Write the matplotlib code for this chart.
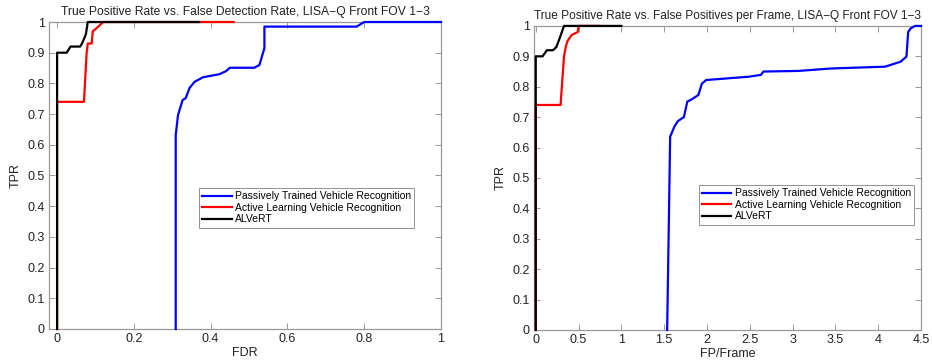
import matplotlib
matplotlib.use("Agg")
import matplotlib.pyplot as plt

plt.rcParams['font.family'] = ['Liberation Sans', 'DejaVu Sans']

# ---- Left plot: TPR vs FDR ----
fdr_passive = [0.309, 0.309, 0.315, 0.327, 0.335, 0.345, 0.358, 0.38, 0.423, 0.44, 0.45,
               0.514, 0.527, 0.54, 0.54, 0.78, 0.80, 1.0]
tpr_passive_l = [0.0, 0.632, 0.697, 0.746, 0.752, 0.785, 0.805, 0.82, 0.83, 0.84, 0.851,
                 0.851, 0.86, 0.915, 0.985, 0.985, 1.0, 1.0]
fdr_active = [0.0, 0.0, 0.07, 0.077, 0.08, 0.09, 0.093, 0.103, 0.12, 0.46]
tpr_active_l = [0.0, 0.74, 0.74, 0.90, 0.93, 0.93, 0.97, 0.98, 1.0, 1.0]
fdr_alvert = [0.0, 0.0, 0.025, 0.035, 0.06, 0.065, 0.075, 0.08, 0.37]
tpr_alvert_l = [0.0, 0.90, 0.90, 0.92, 0.92, 0.93, 0.96, 1.0, 1.0]

# ---- Right plot: TPR vs FP/Frame ----
fpf_passive = [1.535, 1.57, 1.62, 1.66, 1.73, 1.77, 1.83, 1.90, 1.94, 1.99, 2.26, 2.49,
               2.63, 2.66, 3.07, 3.45, 4.08, 4.17, 4.26, 4.33, 4.35, 4.38, 4.43, 4.5]
tpr_passive_r = [0.0, 0.636, 0.669, 0.687, 0.70, 0.751, 0.76, 0.773, 0.81, 0.822, 0.828,
                 0.833, 0.839, 0.85, 0.852, 0.86, 0.866, 0.874, 0.882, 0.899, 0.98, 0.992,
                 1.0, 1.0]
fpf_active = [0.0, 0.0, 0.29, 0.33, 0.35, 0.37, 0.42, 0.49, 0.50, 0.75]
tpr_active_r = [0.0, 0.74, 0.74, 0.90, 0.93, 0.95, 0.97, 0.98, 1.0, 1.0]
fpf_alvert = [0.0, 0.0, 0.08, 0.13, 0.20, 0.24, 0.28, 0.33, 1.0]
tpr_alvert_r = [0.0, 0.90, 0.90, 0.92, 0.92, 0.93, 0.96, 1.0, 1.0]

labels = ['Passively Trained Vehicle Recognition',
          'Active Learning Vehicle Recognition',
          'ALVeRT']
colors = ['#0000ff', '#ff0000', '#000000']

yticks = [0, 0.1, 0.2, 0.3, 0.4, 0.5, 0.6, 0.7, 0.8, 0.9, 1]
ytick_labels = ['0', '0.1', '0.2', '0.3', '0.4', '0.5', '0.6', '0.7', '0.8', '0.9', '1']
xticks_l = [0, 0.2, 0.4, 0.6, 0.8, 1]
xtick_labels_l = ['0', '0.2', '0.4', '0.6', '0.8', '1']
xticks_r = [0, 0.5, 1, 1.5, 2, 2.5, 3, 3.5, 4, 4.5]
xtick_labels_r = ['0', '0.5', '1', '1.5', '2', '2.5', '3', '3.5', '4', '4.5']

fig = plt.figure(figsize=(9.32, 3.62), dpi=100)
ax1 = fig.add_axes([0.0526, 0.0912, 0.4206, 0.848])
ax2 = fig.add_axes([0.573, 0.0884, 0.4152, 0.840])

def style(ax, xticks, xtl, xlim, title, xlabel, legpos, tsize):
    ax.set_xlim(*xlim)
    ax.set_ylim(0, 1)
    ax.set_xticks(xticks)
    ax.set_xticklabels(xtl)
    ax.set_yticks(yticks)
    ax.set_yticklabels(ytick_labels)
    ax.tick_params(direction='in', top=True, right=True, length=4, width=0.6,
                   color='#888888', labelsize=9, labelcolor='#222222', pad=3)
    for s in ax.spines.values():
        s.set_color('#999999')
        s.set_linewidth(0.9)
    ax.set_title(title, fontsize=tsize, color='#222222', pad=5)
    ax.set_xlabel(xlabel, fontsize=9, color='#222222', labelpad=1)
    ax.set_ylabel('TPR', fontsize=9, color='#222222', labelpad=4)
    leg = ax.legend(loc='upper left', bbox_to_anchor=legpos, fontsize=7.5,
                    frameon=True, fancybox=False, edgecolor='#777777',
                    handlelength=2.8, handletextpad=0.3, borderpad=0.32,
                    labelspacing=0.14, borderaxespad=0)
    leg.get_frame().set_linewidth(0.7)

def draw(ax, xs, ys):
    for x, y, c, lab in zip(xs, ys, colors, labels):
        ax.plot(x, y, color=c, lw=1.6, label=lab, clip_on=False, zorder=3)

draw(ax1, [fdr_passive, fdr_active, fdr_alvert], [tpr_passive_l, tpr_active_l, tpr_alvert_l])
style(ax1, xticks_l, xtick_labels_l, (-0.021, 1.0),
      'True Positive Rate vs. False Detection Rate, LISA\u2212Q Front FOV 1\u22123',
      'FDR', (0.383, 0.459), 8.7)

draw(ax2, [fpf_passive, fpf_active, fpf_alvert], [tpr_passive_r, tpr_active_r, tpr_alvert_r])
style(ax2, xticks_r, xtick_labels_r, (-0.02, 4.5),
      'True Positive Rate vs. False Positives per Frame, LISA\u2212Q Front FOV 1\u22123',
      'FP/Frame', (0.426, 0.477), 8.6)

fig.savefig('out.png', dpi=100)
